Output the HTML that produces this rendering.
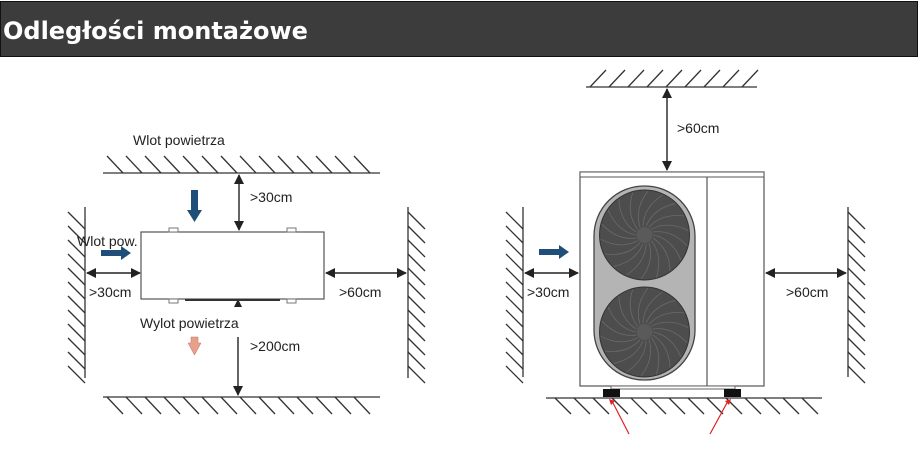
<!DOCTYPE html>
<html><head><meta charset="utf-8"><style>
body{margin:0;width:918px;height:463px;background:#fff;overflow:hidden;font-family:"Liberation Sans",sans-serif}
.hd{position:absolute;left:0;top:1px;width:916px;height:54px;background:#3c3c3c;border:1px solid #111}
.hd span{position:absolute;left:2px;top:15px;color:#fff;font:bold 24px "DejaVu Sans",sans-serif}
svg{position:absolute;left:0;top:0}
</style></head><body>
<div class="hd"><span>Odległości montażowe</span></div>
<svg id="s" width="918" height="463" font-family="Liberation Sans, sans-serif" font-size="14" fill="#222">
<defs>
<marker id="a" markerWidth="10" markerHeight="10" refX="9" refY="5" orient="auto-start-reverse" markerUnits="userSpaceOnUse"><path d="M0,0 L10,5 L0,10 Z" fill="#222"/></marker>
</defs>
<g stroke="#333" stroke-width="1.3" fill="none" id="walls">
<line x1="103" y1="173" x2="380" y2="173"/>
<line x1="103" y1="397" x2="380" y2="397"/>
<line x1="85" y1="207" x2="85" y2="378"/>
<line x1="408" y1="207" x2="408" y2="378"/>
<line x1="586" y1="87" x2="757" y2="87"/>
<line x1="546" y1="398" x2="822" y2="398"/>
<line x1="523" y1="207" x2="523" y2="377"/>
<line x1="848" y1="207" x2="848" y2="377"/>
</g>
<g stroke="#222" stroke-width="1.4" fill="none">
<line x1="239" y1="175" x2="239" y2="230" marker-start="url(#a)" marker-end="url(#a)"/>
<line x1="87" y1="273" x2="140" y2="273" marker-start="url(#a)" marker-end="url(#a)"/>
<line x1="326" y1="273" x2="406" y2="273" marker-start="url(#a)" marker-end="url(#a)"/>
<line x1="238" y1="337" x2="238" y2="395" marker-end="url(#a)"/>
<line x1="667" y1="89" x2="667" y2="170" marker-start="url(#a)" marker-end="url(#a)"/>
<line x1="525" y1="273" x2="578" y2="273" marker-start="url(#a)" marker-end="url(#a)"/>
<line x1="766" y1="273" x2="846" y2="273" marker-start="url(#a)" marker-end="url(#a)"/>
</g>
<path d="M234,307 L238,299 L242,307 Z" fill="#222"/>
<rect x="141" y="232" width="183" height="67" fill="#fff" stroke="#555" stroke-width="1.2"/>
<g fill="#fff" stroke="#777"><rect x="169" y="228" width="9" height="4"/><rect x="287" y="228" width="9" height="4"/><rect x="169" y="299" width="9" height="4"/><rect x="287" y="299" width="9" height="4"/></g>
<rect x="185" y="299" width="95" height="2" fill="#333"/>
<path d="M191,190 h7 v20 h4 l-7.5,12 l-7.5,-12 h4 z" fill="#1f4e79"/>
<path d="M101,250 h20 v-4 l10,7 l-10,7 v-4 h-20 z" fill="#1f4e79"/>
<path d="M539,249 h20 v-4 l10,7 l-10,7 v-4 h-20 z" fill="#1f4e79"/>
<path d="M191,337 h7 v6 h3 l-6.5,12 l-6.5,-12 h3 z" fill="#e8a08a" stroke="#c07060" stroke-width="0.5"/>
<text x="133" y="145">Wlot powietrza</text>
<text x="250" y="202">&gt;30cm</text>
<text x="77" y="246">Wlot pow.</text>
<text x="89" y="297">&gt;30cm</text>
<text x="339" y="297">&gt;60cm</text>
<text x="140" y="328">Wylot powietrza</text>
<text x="250" y="351">&gt;200cm</text>
<text x="677" y="133">&gt;60cm</text>
<text x="527" y="297">&gt;30cm</text>
<text x="786" y="297">&gt;60cm</text>
<rect x="580" y="172" width="184" height="214" fill="#fff" stroke="#555" stroke-width="1.2"/>
<rect x="580" y="172" width="184" height="5" fill="#fff" stroke="#555"/>
<line x1="707" y1="177" x2="707" y2="386" stroke="#555" stroke-width="1.2"/>
<rect x="594" y="186" width="101" height="194" rx="50" fill="#b4b4b4" stroke="#444" stroke-width="1.3"/>
<g id="fans"></g>
<rect x="611" y="386" width="124" height="3" fill="#fff" stroke="#666"/>
<rect x="603" y="389" width="17" height="8" fill="#111"/>
<rect x="724" y="389" width="17" height="8" fill="#111"/>
<g stroke="#e02020" stroke-width="1.2"><line x1="629" y1="434" x2="612" y2="401"/><line x1="710" y1="434" x2="728" y2="401"/></g>
<path d="M609,399 l6,2 l-4,4 z M731,399 l-6,2 l4,4 z" fill="#e02020"/>
</svg>
<script>
var s=document.getElementById('walls'),ns='http://www.w3.org/2000/svg';
function L(x1,y1,x2,y2,g){var l=document.createElementNS(ns,'line');l.setAttribute('x1',x1);l.setAttribute('y1',y1);l.setAttribute('x2',x2);l.setAttribute('y2',y2);(g||s).appendChild(l);}
for(var x=107;x<370;x+=19){L(x,156,x+16,173);L(x,397,x+16,414);}
for(var y=212;y<372;y+=14){L(68,y,85,y+17);L(408,y,425,y+17);L(506,y,523,y+17);L(848,y,865,y+17);}
for(var x=590;x<745;x+=19){L(x+16,70,x,87);}
for(var x=555;x<815;x+=19){L(x,398,x+16,414);}
var f=document.getElementById('fans');
[235,332].forEach(function(cy){
 var c=document.createElementNS(ns,'circle');c.setAttribute('cx',644.5);c.setAttribute('cy',cy);c.setAttribute('r',45);c.setAttribute('fill','#4d4d4d');c.setAttribute('stroke','#333');f.appendChild(c);
 for(var i=0;i<18;i++){var a=i*Math.PI/9;var p=document.createElementNS(ns,'path');
 var x1=644.5+9*Math.cos(a),y1=cy+9*Math.sin(a),x2=644.5+44*Math.cos(a+0.6),y2=cy+44*Math.sin(a+0.6),qx=644.5+28*Math.cos(a+0.15),qy=cy+28*Math.sin(a+0.15);
 p.setAttribute('d','M'+x1+','+y1+' Q'+qx+','+qy+' '+x2+','+y2);p.setAttribute('stroke','#6a6a6a');p.setAttribute('fill','none');p.setAttribute('stroke-width','0.8');f.appendChild(p);}
 var h=document.createElementNS(ns,'circle');h.setAttribute('cx',644.5);h.setAttribute('cy',cy);h.setAttribute('r',8);h.setAttribute('fill','#5a5a5a');f.appendChild(h);
});
</script>
</body></html>
